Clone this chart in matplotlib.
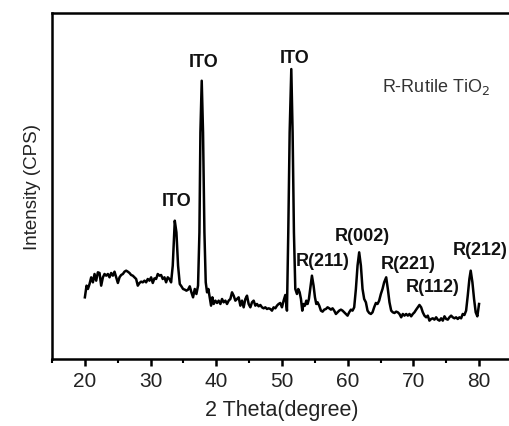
import matplotlib
matplotlib.use('Agg')
import matplotlib.pyplot as plt
from matplotlib.ticker import MultipleLocator, NullLocator

plt.rcParams['font.family'] = ['Liberation Sans', 'DejaVu Sans']

# Datos XRD (intensidad en unidades arbitrarias)
two_theta = [
    20.00, 20.25, 20.46, 20.71, 20.96, 21.22, 21.47, 21.72, 21.98, 22.23,
    22.48, 22.74, 22.99, 23.24, 23.50, 23.75, 24.00, 24.26, 24.51, 24.76,
    25.02, 25.27, 25.52, 25.78, 26.03, 26.28, 26.53, 26.79, 27.04, 27.29,
    27.55, 27.80, 28.05, 28.31, 28.56, 28.81, 29.07, 29.32, 29.57, 29.83,
    30.08, 30.33, 30.59, 30.84, 31.09, 31.35, 31.60, 31.85, 32.11, 32.36,
    32.61, 32.87, 33.12, 33.37, 33.68, 33.93, 34.18, 34.44, 34.69, 34.94,
    35.20, 35.45, 35.70, 35.96, 36.21, 36.46, 36.72, 36.97, 37.22, 37.43,
    37.58, 37.78, 37.98, 38.19, 38.39, 38.59, 38.79, 39.00, 39.20, 39.40,
    39.60, 39.86, 40.11, 40.36, 40.62, 40.87, 41.12, 41.38, 41.63, 41.88,
    42.14, 42.39, 42.64, 42.90, 43.15, 43.40, 43.66, 43.91, 44.16, 44.42,
    44.67, 44.92, 45.18, 45.43, 45.68, 45.94, 46.19, 46.44, 46.70, 46.95,
    47.20, 47.46, 47.71, 47.96, 48.22, 48.47, 48.72, 48.98, 49.23, 49.48,
    49.73, 49.99, 50.24, 50.50, 50.75, 50.95, 51.16, 51.41, 51.61, 51.81,
    52.02, 52.27, 52.47, 52.68, 52.88, 53.08, 53.28, 53.49, 53.69, 53.89,
    54.09, 54.35, 54.55, 54.80, 55.01, 55.21, 55.41, 55.66, 55.92, 56.17,
    56.42, 56.68, 56.93, 57.18, 57.44, 57.69, 57.94, 58.20, 58.45, 58.70,
    58.96, 59.21, 59.46, 59.72, 59.97, 60.22, 60.48, 60.73, 60.98, 61.24,
    61.49, 61.74, 62.00, 62.25, 62.50, 62.76, 63.01, 63.26, 63.52, 63.77,
    64.02, 64.28, 64.53, 64.78, 65.04, 65.29, 65.54, 65.85, 66.10, 66.35,
    66.61, 66.86, 67.11, 67.37, 67.62, 67.87, 68.13, 68.38, 68.63, 68.89,
    69.14, 69.39, 69.65, 69.90, 70.15, 70.41, 70.66, 70.91, 71.17, 71.42,
    71.67, 71.93, 72.18, 72.43, 72.69, 72.94, 73.19, 73.45, 73.70, 73.96,
    74.21, 74.46, 74.72, 74.97, 75.22, 75.47, 75.73, 75.98, 76.23, 76.49,
    76.74, 76.99, 77.25, 77.50, 77.75, 78.01, 78.26, 78.51, 78.71, 78.97,
    79.22, 79.47, 79.72, 79.98,
]
intensity = [
    185, 220, 210, 225, 245, 230, 255, 235, 260, 258,
    220, 245, 255, 250, 255, 245, 258, 250, 262, 245,
    228, 245, 252, 255, 262, 265, 262, 258, 252, 250,
    245, 240, 220, 228, 232, 230, 235, 230, 240, 235,
    245, 228, 242, 240, 255, 250, 252, 240, 245, 230,
    245, 240, 230, 280, 415, 380, 280, 225, 218, 210,
    208, 205, 208, 218, 200, 185, 210, 195, 220, 380,
    680, 835, 680, 380, 230, 200, 210, 185, 160, 185,
    165, 175, 168, 175, 165, 180, 170, 175, 165, 175,
    180, 200, 190, 175, 180, 185, 160, 175, 155, 180,
    190, 165, 155, 170, 175, 160, 165, 158, 162, 155,
    152, 155, 150, 152, 150, 145, 155, 152, 160, 165,
    168, 155, 175, 192, 145, 380, 680, 870, 680, 380,
    210, 195, 210, 200, 180, 145, 165, 160, 175, 165,
    180, 220, 250, 220, 185, 165, 170, 160, 145, 142,
    148, 150, 155, 152, 148, 152, 145, 135, 140, 145,
    148, 145, 140, 135, 130, 140, 148, 145, 155, 210,
    280, 320, 280, 210, 180, 170, 145, 138, 135, 140,
    155, 168, 165, 175, 195, 210, 230, 245, 210, 170,
    145, 140, 138, 142, 140, 135, 125, 135, 130, 135,
    130, 135, 128, 135, 140, 148, 155, 162, 155, 140,
    130, 125, 130, 115, 120, 122, 118, 125, 118, 115,
    122, 115, 128, 120, 118, 125, 130, 125, 122, 125,
    120, 125, 122, 135, 132, 145, 190, 240, 265, 230,
    180, 140, 128, 165,
]

# Etiquetas de picos
peak_labels = ['ITO', 'ITO', 'ITO', 'R(211)', 'R(002)', 'R(221)', 'R(112)', 'R(212)']
label_x = [33.93, 38.09, 51.91, 56.22, 62.15, 69.24, 72.94, 80.13]
label_y = [475, 892, 905, 295, 370, 287, 218, 330]

fig = plt.figure(figsize=(5.10, 4.27), dpi=100)
ax = fig.add_axes([0.102, 0.157, 0.902, 0.810])

ax.plot(two_theta, intensity, color='black', linewidth=1.8)

for lab, lx, ly in zip(peak_labels, label_x, label_y):
    ax.text(lx, ly, lab, ha='center', va='center', fontsize=13,
            fontweight='bold', color='#111111')

ax.text(73.5, 818, 'R-Rutile TiO$_2$', ha='center', va='center',
        fontsize=13, color='#333333')

ax.set_xlim(15, 85)
ax.set_ylim(0, 1038)

ax.xaxis.set_major_locator(MultipleLocator(10))
ax.xaxis.set_minor_locator(MultipleLocator(5))
ax.yaxis.set_major_locator(NullLocator())
ax.tick_params(axis='x', which='major', direction='out', length=5, width=1.8,
               labelsize=15, labelcolor='#222222', pad=4)
ax.tick_params(axis='x', which='minor', direction='out', length=3, width=1.5)

for side in ['left', 'bottom', 'top', 'right']:
    ax.spines[side].set_linewidth(1.8)

ax.set_xlabel('2 Theta(degree)', fontsize=15.5, color='#222222', labelpad=6)
ax.set_ylabel('Intensity (CPS)', fontsize=13.5, color='#222222', labelpad=8)

plt.savefig('out.png', dpi=100)
plt.close()
